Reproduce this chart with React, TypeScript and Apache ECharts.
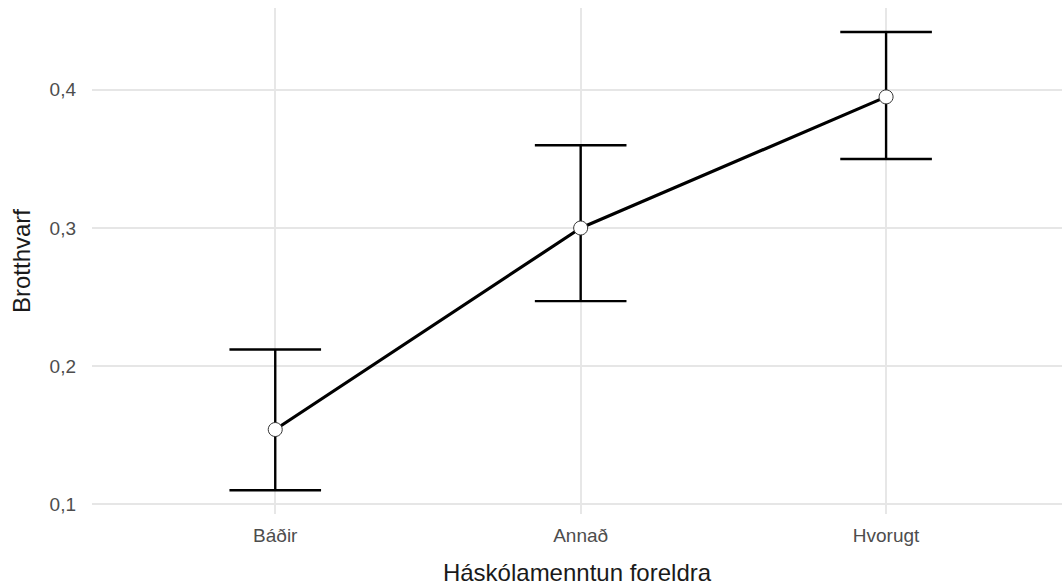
import React, { useEffect, useRef } from "react";
import * as echarts from "echarts";

const categories = ["Báðir", "Annað", "Hvorugt"];
const means = [0.154, 0.3, 0.395];
const lower = [0.11, 0.247, 0.35];
const upper = [0.212, 0.36, 0.442];
const yTicks = [0.1, 0.2, 0.3, 0.4];
const xTicks = [0, 1, 2];

const FONT = "'Liberation Sans', Arial, Helvetica, sans-serif";

export default function App() {
  const ref = useRef<HTMLDivElement>(null);
  useEffect(() => {
    if (!ref.current) return;
    const chart = echarts.init(ref.current, null, { renderer: "svg" });
    const gridStyle = { color: "#e6e6e6", width: 1.9, type: "solid" as const };
    chart.setOption({
      animation: false,
      backgroundColor: "#ffffff",
      grid: {
        left: 92,
        right: 0,
        top: 8,
        bottom: 74,
        containLabel: false,
        outerBoundsMode: "none",
      },
      xAxis: {
        type: "value",
        min: -0.6,
        max: 2.576,
        name: "Háskólamenntun foreldra",
        nameLocation: "middle",
        nameGap: 46,
        nameTextStyle: { fontFamily: FONT, fontSize: 24, color: "#1a1a1a" },
        axisLine: { show: false },
        axisTick: { show: false },
        splitLine: { show: false },
        axisLabel: {
          customValues: xTicks,
          formatter: (v: number) => categories[Math.round(v)] ?? "",
          fontFamily: FONT,
          fontSize: 19,
          color: "#4d4d4d",
          margin: 12,
        },
      },
      yAxis: {
        type: "value",
        min: 0.0928,
        max: 0.4594,
        name: "Brotthvarf",
        nameLocation: "middle",
        nameGap: 59,
        nameRotate: 90,
        nameTextStyle: { fontFamily: FONT, fontSize: 24, color: "#1a1a1a" },
        axisLine: { show: false },
        axisTick: { show: false },
        splitLine: { show: false },
        axisLabel: {
          customValues: yTicks,
          formatter: (v: number) => v.toFixed(1).replace(".", ","),
          fontFamily: FONT,
          fontSize: 19,
          color: "#4d4d4d",
          margin: 16,
        },
      },
      series: [
        {
          type: "line",
          data: [],
          silent: true,
          z: 0,
          markLine: {
            silent: true,
            z: 0,
            symbol: "none",
            label: { show: false },
            lineStyle: gridStyle,
            data: [
              ...yTicks.map((v) => ({ yAxis: v })),
              ...xTicks.map((v) => ({ xAxis: v })),
            ],
          },
        },
        {
          type: "custom",
          z: 3,
          data: categories.map((_, i) => [i, lower[i], upper[i]]),
          renderItem: (params: any, api: any) => {
            const x = api.value(0);
            const lo = api.value(1);
            const hi = api.value(2);
            const pLo = api.coord([x, lo]);
            const pHi = api.coord([x, hi]);
            const cL = api.coord([x - 0.15, hi]);
            const cR = api.coord([x + 0.15, hi]);
            const half = (cR[0] - cL[0]) / 2;
            const style = { stroke: "#000000", lineWidth: 2.4 };
            return {
              type: "group",
              children: [
                { type: "line", shape: { x1: pLo[0], y1: pLo[1], x2: pHi[0], y2: pHi[1] }, style },
                { type: "line", shape: { x1: pHi[0] - half, y1: pHi[1], x2: pHi[0] + half, y2: pHi[1] }, style },
                { type: "line", shape: { x1: pLo[0] - half, y1: pLo[1], x2: pLo[0] + half, y2: pLo[1] }, style },
              ],
            };
          },
        },
        {
          type: "line",
          z: 4,
          data: categories.map((_, i) => [i, means[i]]),
          lineStyle: { color: "#000000", width: 3.2 },
          symbol: "circle",
          symbolSize: 14,
          itemStyle: { color: "#ffffff", borderColor: "#333333", borderWidth: 1 },
        },
      ],
    });
    return () => chart.dispose();
  }, []);
  return (
    <div
      ref={ref}
      style={{ position: "absolute", left: 0, top: 0, width: 1062, height: 588 }}
    />
  );
}
